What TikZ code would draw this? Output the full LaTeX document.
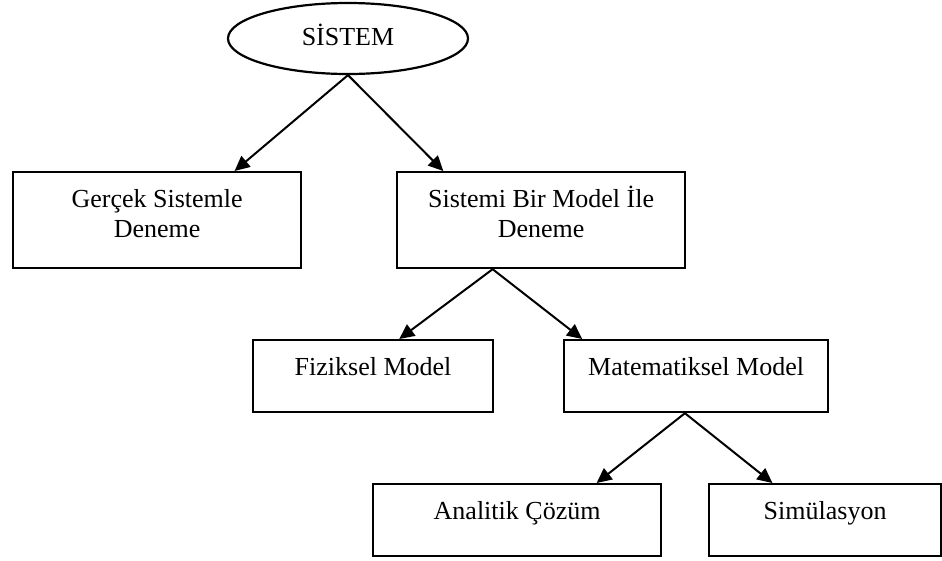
\documentclass[tikz,border=0pt]{standalone}
\usepackage{fontspec}
\setmainfont{Liberation Serif}
\usetikzlibrary{positioning, arrows.meta, shapes.geometric, calc}

\tikzset{
  kutu/.style={draw, line width=2.2pt, rectangle, anchor=north west, inner sep=0pt,
    align=center, text height=35pt, text depth=#1, font=\fontsize{26}{30}\selectfont},
  kutu/.default=37pt,
  ikikutu/.style={kutu, text height=65.5pt, text depth=30.5pt},
  ok/.style={line width=2pt, -{Triangle[length=15pt,width=14pt]}}
}

\begin{document}
\begin{tikzpicture}[x=1pt, y=-1pt]
  \useasboundingbox (0,0) rectangle (942,560);
  \node[ellipse, draw, line width=2.2pt, minimum width=240pt, minimum height=71pt, inner sep=0pt,
    text height=17pt, text depth=4pt, font=\fontsize{26}{30}\selectfont] (sistem) at (348,38.5) {SİSTEM};
  \node[ikikutu, minimum width=288pt] (gercek) at (12,171) {Gerçek Sistemle\\Deneme};
  \node[ikikutu, minimum width=288pt] (sistemi) at (396,171) {Sistemi Bir Model İle\\Deneme};
  \node[kutu, minimum width=240pt] (fiziksel) at (252,339) {Fiziksel Model};
  \node[kutu, minimum width=264pt] (matematiksel) at (563,339) {Matematiksel Model};
  \node[kutu, minimum width=288pt] (analitik) at (372,483) {Analitik Çözüm};
  \node[kutu, minimum width=232pt] (simulasyon) at (708,483) {Simülasyon};

  \draw[ok] (sistem.south) -- ($(gercek.north west)!0.767!(gercek.north east)$);
  \draw[ok] (sistem.south) -- ($(sistemi.north west)!0.163!(sistemi.north east)$);
  \draw[ok] ($(sistemi.south west)!0.333!(sistemi.south east)$) -- ($(fiziksel.north west)!0.608!(fiziksel.north east)$);
  \draw[ok] ($(sistemi.south west)!0.333!(sistemi.south east)$) -- ($(matematiksel.north west)!0.072!(matematiksel.north east)$);
  \draw[ok] ($(matematiksel.south west)!0.458!(matematiksel.south east)$) -- ($(analitik.north west)!0.774!(analitik.north east)$);
  \draw[ok] ($(matematiksel.south west)!0.458!(matematiksel.south east)$) -- ($(simulasyon.north west)!0.275!(simulasyon.north east)$);
\end{tikzpicture}
\end{document}
